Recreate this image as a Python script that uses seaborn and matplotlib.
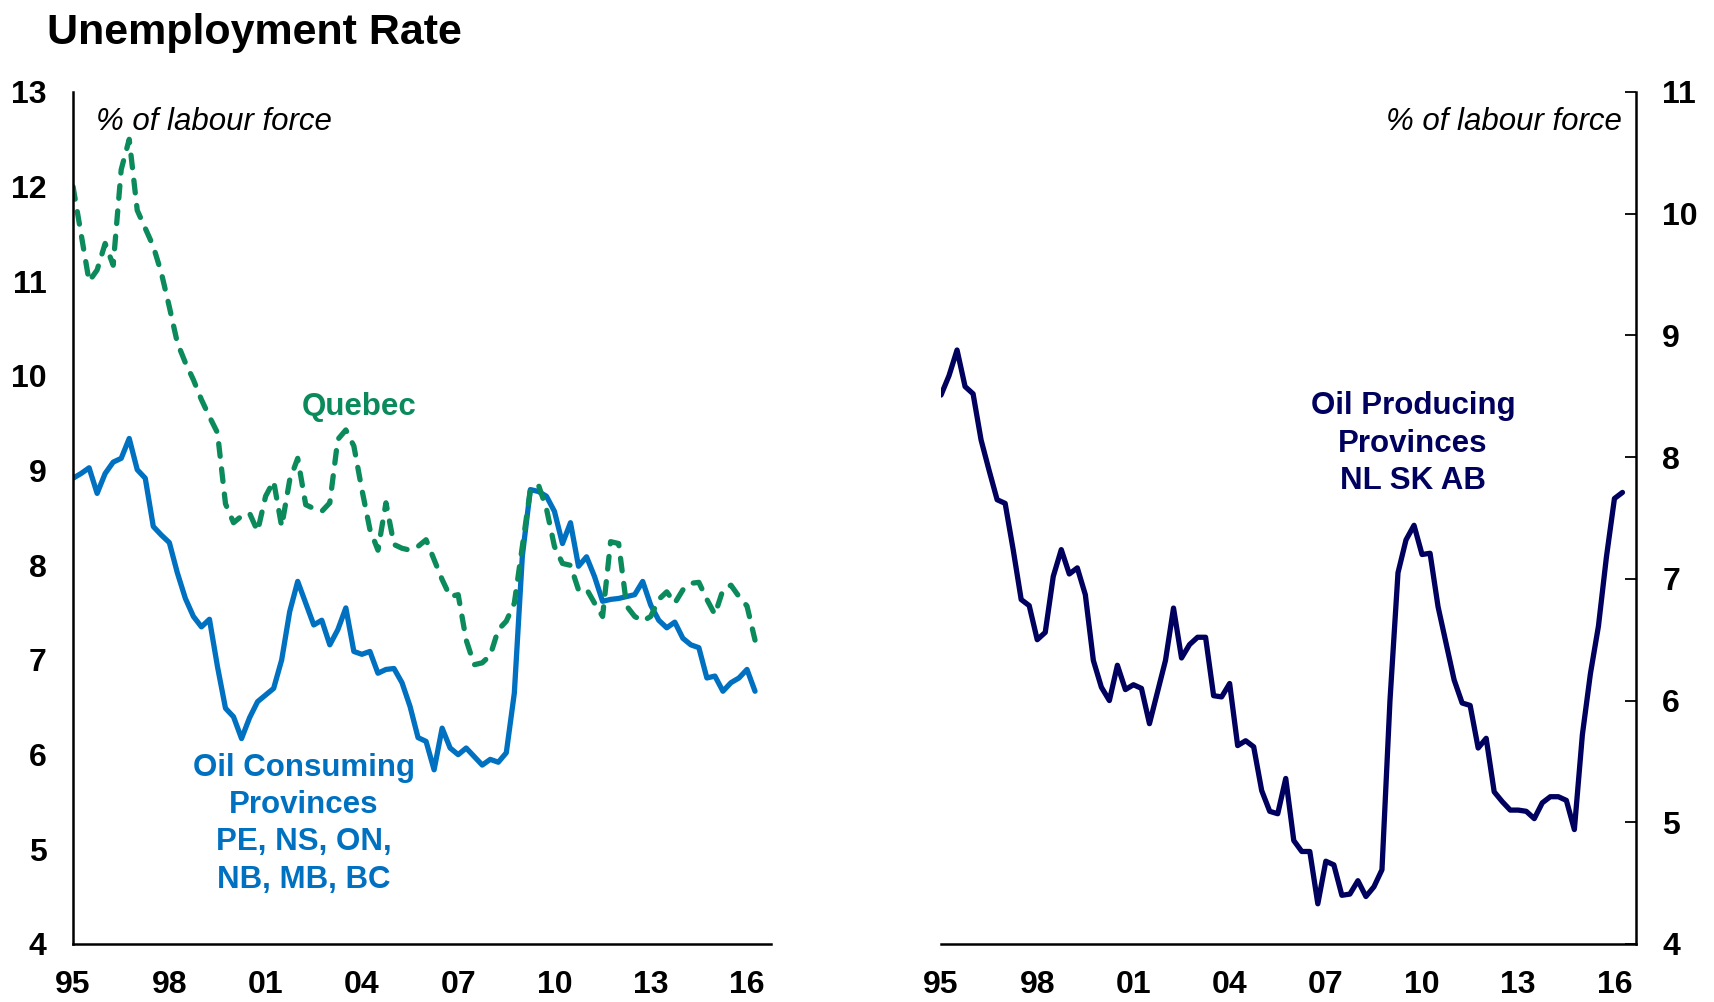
import numpy as np
import pandas as pd
import seaborn as sns
import matplotlib.pyplot as plt

# datos trimestrales 1995Q1 - 2016Q2
start_year = 1995
quebec = [12.0, 11.5, 11.0, 11.12, 11.4, 11.17, 12.18, 12.5, 11.75, 11.56,
          11.37, 11.09, 10.73, 10.35, 10.14, 9.96, 9.75, 9.57, 9.4, 8.65,
          8.45, 8.52, 8.55, 8.36, 8.73, 8.89, 8.41, 8.9, 9.13, 8.64,
          8.6, 8.57, 8.66, 9.33, 9.43, 9.26, 8.8, 8.38, 8.16, 8.66,
          8.22, 8.18, 8.16, 8.2, 8.27, 8.06, 7.85, 7.67, 7.69, 7.21,
          6.95, 6.97, 7.05, 7.32, 7.41, 7.6, 8.2, 8.8, 8.85, 8.6,
          8.2, 8.02, 8.0, 7.74, 7.75, 7.6, 7.46, 8.25, 8.23, 7.57,
          7.46, 7.41, 7.46, 7.64, 7.72, 7.6, 7.74, 7.81, 7.82, 7.64,
          7.48, 7.74, 7.79, 7.67, 7.57, 7.21]
oil_consuming = [8.92, 8.97, 9.03, 8.76, 8.97, 9.09, 9.13, 9.34, 9.01, 8.92,
                 8.41, 8.32, 8.24, 7.92, 7.65, 7.46, 7.35, 7.43, 6.93, 6.49,
                 6.4, 6.17, 6.39, 6.56, 6.63, 6.7, 7.0, 7.51, 7.83, 7.6,
                 7.37, 7.42, 7.16, 7.32, 7.55, 7.09, 7.06, 7.09, 6.86, 6.9,
                 6.91, 6.76, 6.51, 6.18, 6.14, 5.84, 6.28, 6.07, 6.0, 6.07,
                 5.98, 5.89, 5.95, 5.92, 6.02, 6.65, 8.1, 8.8, 8.78, 8.73,
                 8.57, 8.23, 8.45, 7.99, 8.09, 7.88, 7.62, 7.64, 7.65, 7.67,
                 7.69, 7.83, 7.58, 7.42, 7.34, 7.4, 7.23, 7.16, 7.13, 6.81,
                 6.83, 6.67, 6.76, 6.81, 6.9, 6.67]
oil_producing = [8.51, 8.67, 8.88, 8.58, 8.52, 8.14, 7.89, 7.65, 7.62, 7.24,
                 6.83, 6.78, 6.5, 6.56, 7.02, 7.24, 7.04, 7.09, 6.87, 6.33,
                 6.11, 6.0, 6.29, 6.09, 6.13, 6.1, 5.81, 6.07, 6.33, 6.76,
                 6.35, 6.46, 6.52, 6.52, 6.04, 6.03, 6.14, 5.63, 5.67, 5.62,
                 5.26, 5.09, 5.07, 5.36, 4.85, 4.76, 4.76, 4.33, 4.68, 4.65,
                 4.4, 4.41, 4.52, 4.39, 4.47, 4.61, 6.0, 7.05, 7.32, 7.44,
                 7.2, 7.21, 6.77, 6.47, 6.17, 5.98, 5.96, 5.61, 5.69, 5.25,
                 5.17, 5.1, 5.1, 5.09, 5.03, 5.16, 5.21, 5.21, 5.18, 4.94,
                 5.72, 6.22, 6.61, 7.18, 7.66, 7.71]
tick_years = [1995, 1998, 2001, 2004, 2007, 2010, 2013, 2016]
tick_labels = ["95", "98", "01", "04", "07", "10", "13", "16"]

df = pd.DataFrame({"quebec": quebec, "consuming": oil_consuming, "producing": oil_producing})
df["t"] = start_year + np.arange(len(df)) / 4

GREEN = "#0B8A5C"
BLUE = "#0070C0"
NAVY = "#00005E"
LW = 3.8

sns.set_style("white")
plt.rcParams["font.family"] = ["Liberation Sans", "DejaVu Sans"]
plt.rcParams["text.color"] = "black"

fig = plt.figure(figsize=(17.15, 10.02), dpi=100)
ax1 = fig.add_axes([0.0426, 0.0579, 0.407, 0.8503])
ax2 = fig.add_axes([0.5487, 0.0579, 0.4052, 0.8503])

# panel izquierdo
sns.lineplot(data=df, x="t", y="consuming", ax=ax1, color=BLUE, linewidth=LW)
sns.lineplot(data=df, x="t", y="quebec", ax=ax1, color=GREEN, linewidth=LW,
             linestyle=(0, (2.4, 2.4)), dash_capstyle="round")
ax1.set_xlim(1995, 2016.75)
ax1.set_ylim(4, 13)
ax1.set_yticks(range(4, 14))
for s in ["top", "right"]:
    ax1.spines[s].set_visible(False)

# panel derecho
sns.lineplot(data=df, x="t", y="producing", ax=ax2, color=NAVY, linewidth=LW)
ax2.set_xlim(1995, 2016.67)
ax2.set_ylim(4, 11)
ax2.set_yticks(range(4, 12))
ax2.yaxis.tick_right()
for s in ["top", "left"]:
    ax2.spines[s].set_visible(False)

for ax in [ax1, ax2]:
    ax.set_xticks(tick_years)
    ax.set_xticklabels(tick_labels)
    ax.set_xlabel("")
    ax.set_ylabel("")
    for s in ax.spines.values():
        s.set_linewidth(1.8)
        s.set_color("black")
    ax.tick_params(axis="both", direction="in", length=8, width=1.3, colors="black",
                   labelsize=23)
    ax.tick_params(axis="x", pad=19)
    ax.tick_params(axis="y", pad=19)
    for lab in ax.get_xticklabels() + ax.get_yticklabels():
        lab.set_fontweight("bold")

ax2.tick_params(axis="y", labelright=True, labelleft=False, right=True, left=False)

# textos
ax1.text(0.033, 0.965, "% of labour force", transform=ax1.transAxes, fontsize=22.5,
         style="italic", ha="left", va="center")
ax2.text(0.98, 0.965, "% of labour force", transform=ax2.transAxes, fontsize=22.5,
         style="italic", ha="right", va="center")

ax1.text(2003.9, 9.67, "Quebec", color=GREEN, fontsize=22.5, fontweight="bold",
         ha="center", va="center")
ax1.text(2002.2, 5.27, "Oil Consuming\nProvinces\nPE, NS, ON,\nNB, MB, BC", color=BLUE,
         fontsize=22.5, fontweight="bold", ha="center", va="center", linespacing=1.32)
ax2.text(2009.72, 8.11, "Oil Producing\nProvinces\nNL SK AB", color=NAVY,
         fontsize=22.5, fontweight="bold", ha="center", va="center", linespacing=1.32)

fig.text(0.0274, 0.967, "Unemployment Rate", fontsize=31, fontweight="bold",
         ha="left", va="center")

plt.savefig("out.png", dpi=100)
plt.close()
